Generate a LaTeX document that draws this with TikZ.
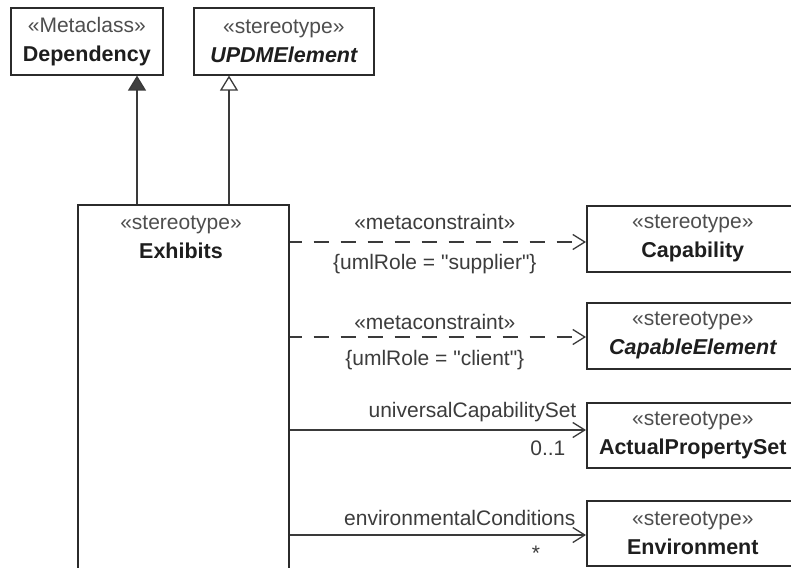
\documentclass[tikz,border=0pt]{standalone}
\usepackage{fontspec}
\setmainfont{Liberation Sans}
\newfontfamily\qfont{Liberation Sans}
\usetikzlibrary{arrows.meta}
\definecolor{boxC}{HTML}{2B2B2B}
\definecolor{stC}{HTML}{4E4E4E}
\definecolor{nmC}{HTML}{1E1E1E}
\definecolor{lblC}{HTML}{3C3C3C}
\definecolor{lnC}{HTML}{3A3A3A}
\definecolor{arrC}{HTML}{404040}
\newcommand{\stereo}[1]{{\color{stC}\guillemotleft #1\guillemotright}}
\newcommand{\clsname}[1]{{\color{nmC}\fontsize{21.5}{29}\selectfont\bfseries #1}}
\newcommand{\absname}[1]{{\color{nmC}\fontsize{21.5}{29}\selectfont\bfseries\itshape #1}}
\newcommand{\sq}{{\qfont"}}
\begin{document}
\begin{tikzpicture}[x=1pt,y=-1pt,
  cls/.style={draw=boxC, line width=1.6pt, fill=white, inner sep=0pt,
    align=center, anchor=north west, font=\fontsize{21}{29}\selectfont},
  txt/.style={inner sep=0pt, align=center, font=\fontsize{21}{29}\selectfont},
  lbl/.style={inner sep=0pt, text=lblC, font=\fontsize{21}{26}\selectfont},
  conn/.style={draw=lnC, line width=1.3pt},
  dep/.style={conn, dash pattern=on 15pt off 12pt, dash phase=3pt,
    -{Straight Barb[length=12pt,width=15pt,line width=1.3pt]}},
  assoc/.style={conn, -{Straight Barb[length=12pt,width=15pt,line width=1.3pt]}}
]
\useasboundingbox (0,0) rectangle (791,567);
\clip (0,0) rectangle (791,567);
\fill[white] (0,0) rectangle (791,567);

% classes
\node[cls, minimum width=152pt, minimum height=67pt] (dep) at (10,7)
  {\stereo{Metaclass}\\\clsname{Dependency}};
\node[cls, minimum width=180pt, minimum height=67pt] (upd) at (193,7)
  {\stereo{stereotype}\\\absname{UPDMElement}};
\node[cls, minimum width=211pt, minimum height=420pt] (exh) at (77,204) {};
\node[txt] (exhtxt) at (181,237) {\stereo{stereotype}\\\clsname{Exhibits}};
\node[cls, minimum width=212pt, minimum height=66pt] (cap) at (586,205)
  {\stereo{stereotype}\\\clsname{Capability}};
\node[cls, minimum width=212pt, minimum height=66pt] (cae) at (586,302)
  {\stereo{stereotype}\\\absname{CapableElement}};
\node[cls, minimum width=212pt, minimum height=65pt] (aps) at (586,402)
  {\stereo{stereotype}\\\clsname{ActualPropertySet}};
\node[cls, minimum width=212pt, minimum height=65pt] (env) at (586,500)
  {\stereo{stereotype}\\\clsname{Environment}};

% helper coordinates
\coordinate (xa) at (137,0);
\coordinate (xb) at (229,0);
\coordinate (ya) at (0,242);
\coordinate (yb) at (0,337);
\coordinate (yc) at (0,430);
\coordinate (yd) at (0,535);

% generalization / extension
\draw[conn, -{Triangle[length=15pt,width=18pt,fill=arrC]}]
  (exh.north -| xa) -- (dep.south -| xa);
\draw[conn, -{Triangle[open,length=15pt,width=18pt,fill=white,line width=1.3pt]}]
  (exh.north -| xb) -- (upd.south -| xb);

% metaconstraints
\draw[dep] (exh.east |- ya) --
  node[lbl, pos=0.49, yshift=20pt] (m1) {\guillemotleft metaconstraint\guillemotright}
  node[lbl, pos=0.49, yshift=-22pt] (r1) {\{umlRole = \sq supplier\sq\}}
  (cap.west |- ya);
\draw[dep] (exh.east |- yb) --
  node[lbl, pos=0.49, yshift=15pt] (m2) {\guillemotleft metaconstraint\guillemotright}
  node[lbl, pos=0.49, yshift=-23pt] (r2) {\{umlRole = \sq client\sq\}}
  (cae.west |- yb);

% associations
\draw[assoc] (exh.east |- yc) --
  node[lbl, at end, anchor=east, xshift=-9pt, yshift=18pt] (n1) {universalCapabilitySet}
  node[lbl, at end, anchor=east, xshift=-20pt, yshift=-18pt] (c1) {0..1}
  (aps.west |- yc);
\draw[assoc] (exh.east |- yd) --
  node[lbl, at end, anchor=east, xshift=-10pt, yshift=17pt] (n2) {environmentalConditions}
  node[lbl, at end, xshift=-50pt, yshift=-18pt] (c2) {*}
  (env.west |- yd);
\end{tikzpicture}
\end{document}
